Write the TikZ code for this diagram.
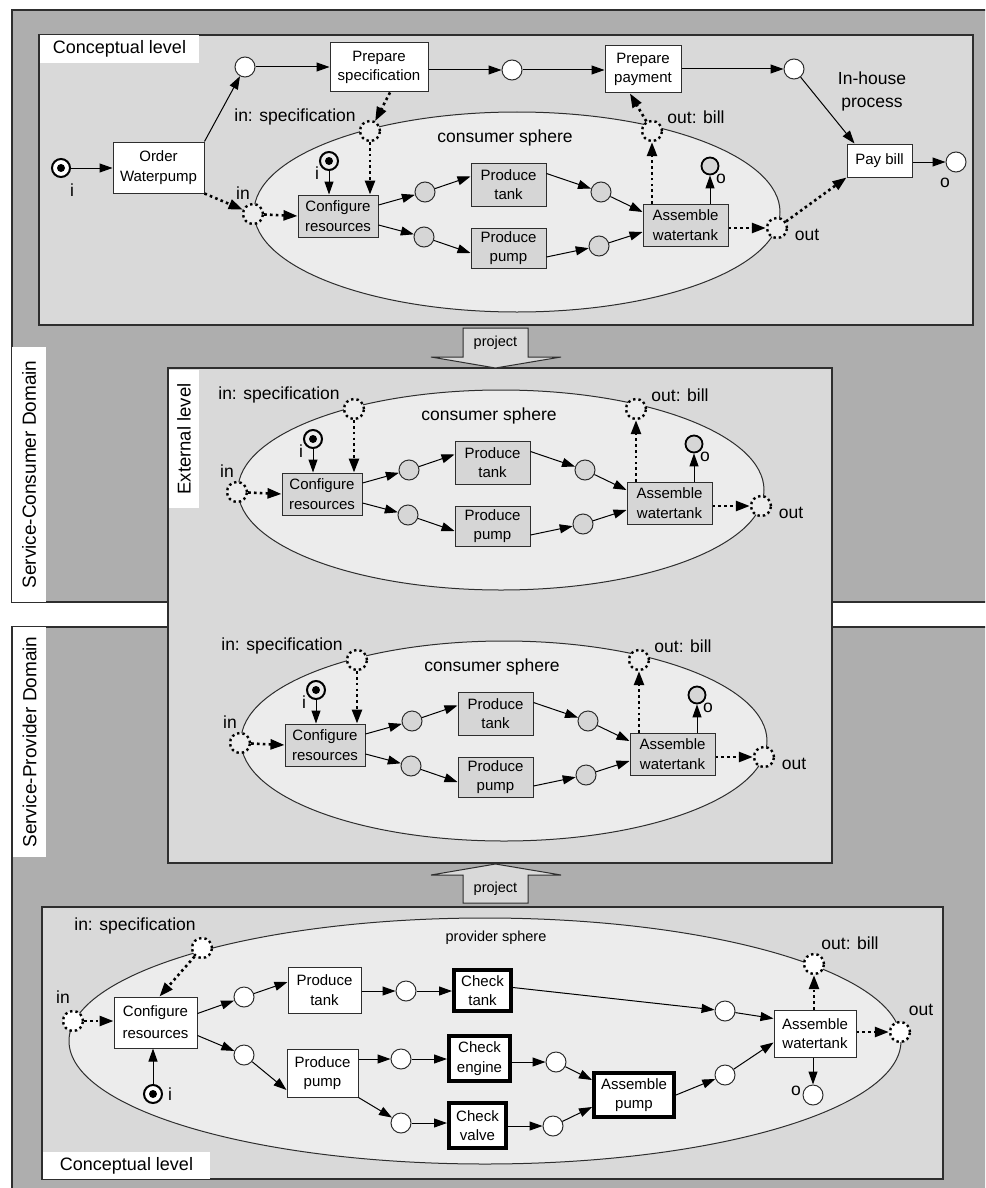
\documentclass[tikz,border=0pt]{standalone}
\usepackage{fontspec}
\setmainfont{Liberation Sans}
\usetikzlibrary{arrows.meta}

\definecolor{domaingray}{HTML}{AEAEAE}
\definecolor{levelgray}{HTML}{D9D9D9}
\definecolor{spheregray}{HTML}{ECECEC}
\definecolor{boxgray}{HTML}{D6D6D6}
\definecolor{edgegray}{HTML}{2E2E2E}

\tikzset{
  boxfont/.style={font=\fontsize{15}{19.5}\selectfont},
  lbl/.style={font=\fontsize{17.5}{23}\selectfont, inner sep=0pt, align=center},
  trans/.style={draw=edgegray, line width=1pt, fill=white, align=center, inner sep=0pt, boxfont},
  gtrans/.style={trans, fill=boxgray},
  ttrans/.style={trans, draw=black, line width=4pt},
  place/.style={circle, draw=edgegray, line width=1pt, fill=white, minimum size=20pt, inner sep=0pt},
  gplace/.style={place, fill=boxgray},
  oplace/.style={place, fill=boxgray, line width=1.8pt, draw=black, minimum size=17pt},
  iface/.style={circle, draw=black, line width=2.4pt, dash pattern=on 2.4pt off 3pt, fill=#1, minimum size=20pt, inner sep=0pt},
  iface/.default=spheregray,
  marked/.style={circle, draw=black, line width=2pt, fill=#1, minimum size=18pt, inner sep=0pt,
    path picture={\fill[black] (path picture bounding box.center) circle[radius=4pt];}},
  marked/.default=white,
  arc/.style={draw=black, line width=1pt, -{Triangle[length=13pt,width=9pt]}},
  darc/.style={draw=black, line width=2.6pt, dash pattern=on 2.6pt off 3.2pt, -{Triangle[length=14pt,width=10pt]}},
  levelbox/.style={draw=edgegray, line width=1.5pt, fill=levelgray},
  domainbox/.style={draw=edgegray, line width=1.5pt, fill=domaingray},
  tag/.style={fill=white, inner sep=0pt},
  projectarrow/.style={draw=edgegray, line width=1pt, fill=levelgray},
}

% One consumer sphere; #1 = prefix for node names, #2 = shift of the whole net
\newcommand{\consumersphere}[2]{%
\begin{scope}[shift={#2}]
  \draw[draw=edgegray, line width=1pt, fill=spheregray] (517,212) ellipse [x radius=263, y radius=100];
  \node[lbl] (#1lab) at (505,138) {consumer sphere};
  \node[iface] (#1ds) at (370,131) {};
  \node[iface] (#1db) at (652,131) {};
  \node[iface] (#1di) at (253,214) {};
  \node[iface] (#1do) at (777,228) {};
  \node[lbl] (#1lds) at (295,117) {in: specification};
  \node[lbl] (#1ldb) at (696,117) {out: bill};
  \node[lbl] (#1ldi) at (243,193) {in};
  \node[lbl] (#1ldo) at (807,235) {out};
  \node[marked=spheregray] (#1ti) at (329,161) {};
  \node[lbl] (#1lti) at (317,173) {i};
  \node[gtrans, minimum width=80pt, minimum height=42pt] (#1cfg) at (338,216) {Configure\\resources};
  \node[gplace] (#1p1) at (425,192) {};
  \node[gplace] (#1p2) at (424,237) {};
  \node[gtrans, minimum width=75pt, minimum height=43pt] (#1tank) at (508.5,184.5) {Produce\\tank};
  \node[gtrans, minimum width=75pt, minimum height=40pt] (#1pump) at (508.5,248) {Produce\\pump};
  \node[gplace] (#1p3) at (601,192) {};
  \node[gplace] (#1p4) at (599,246) {};
  \node[gtrans, minimum width=85pt, minimum height=42pt] (#1asm) at (685.5,225) {Assemble\\watertank};
  \node[oplace] (#1to) at (710,166) {};
  \node[lbl] (#1lto) at (721,179) {o};
  % flow inside the sphere
  \draw[arc] (#1ti) -- (#1ti |- #1cfg.north);
  \draw[darc] (#1ds) -- (#1ds |- #1cfg.north);
  \draw[darc] (#1di) -- (#1cfg.west);
  \draw[arc] ([yshift=11pt]#1cfg.east) -- (#1p1);
  \draw[arc] ([yshift=-9pt]#1cfg.east) -- (#1p2);
  \draw[arc] (#1p1) -- ([yshift=8pt]#1tank.west);
  \draw[arc] (#1p2) -- ([yshift=-5pt]#1pump.west);
  \draw[arc] ([yshift=11pt]#1tank.east) -- (#1p3);
  \draw[arc] ([yshift=-9pt]#1pump.east) -- (#1p4);
  \draw[arc] (#1p3) -- ([yshift=13pt]#1asm.west);
  \draw[arc] (#1p4) -- ([yshift=-7pt]#1asm.west);
  \draw[arc] (#1asm.north -| #1to) -- (#1to);
  \draw[darc] (#1asm.north -| #1db) -- (#1db);
  \draw[darc] (#1asm.east |- #1do) -- (#1do);
\end{scope}}

\begin{document}
\begin{tikzpicture}[x=1pt, y=-1pt]
\clip (0,0) rectangle (985,1188);
\fill[white] (0,0) rectangle (985,1188);

% ---------- domains ----------
\draw[domainbox] (12,10) rectangle (1000,602);
\draw[domainbox] (12,627) rectangle (1000,1200);
\node[tag, rotate=90, minimum width=255pt, minimum height=34pt, font=\fontsize{19}{21}\selectfont] (consdom) at (29,474.5) {Service-Consumer Domain};
\node[tag, rotate=90, minimum width=230pt, minimum height=33pt, font=\fontsize{19}{21}\selectfont] (provdom) at (29.5,742) {Service-Provider Domain};

% ---------- conceptual level of the consumer ----------
\draw[levelbox] (39,35) rectangle (973,325);
\node[tag, minimum width=159pt, minimum height=28pt, font=\fontsize{18}{20}\selectfont] (conctop) at (119.5,49) {Conceptual level};

\consumersphere{c}{(0,0)}

\node[marked] (i0) at (61,168) {};
\node[lbl] (li0) at (72,190) {i};
\node[trans, minimum width=91pt, minimum height=51pt] (order) at (158.5,167.5) {Order\\Waterpump};
\node[place] (pA) at (245,67) {};
\node[trans, minimum width=98pt, minimum height=49pt] (spec) at (379,67.5) {Prepare\\specification};
\node[place] (pB) at (512,70) {};
\node[trans, minimum width=76pt, minimum height=47pt] (pay) at (643,69.5) {Prepare\\payment};
\node[place] (pC) at (794,69) {};
\node[lbl] (inhouse) at (872,91) {In-house\\process};
\node[trans, minimum width=65pt, minimum height=33pt] (bill) at (879.5,160.5) {Pay bill};
\node[place] (pO) at (956,162) {};
\node[lbl] (lpO) at (945,183) {o};

\draw[arc] (i0) -- (i0 -| order.west);
\draw[arc] (order.north east) -- (pA);
\draw[arc] (pA) -- (pA -| spec.west);
\draw[arc] (spec.east |- pB) -- (pB);
\draw[arc] (pB) -- (pB -| pay.west);
\draw[arc] (pay.east |- pC) -- (pC);
\draw[arc] (pC) -- ([xshift=8pt]bill.north west);
\draw[arc] (bill.east |- pO) -- (pO);
\draw[darc] (order.south east) -- (cdi);
\draw[darc] ([xshift=11pt]spec.south) -- (cds);
\draw[darc] (cdb) -- ([xshift=-13pt]pay.south);
\draw[darc] (cdo) -- (bill.south west);

% ---------- external level ----------
\draw[levelbox] (168,368) rectangle (832,863);
\node[tag, rotate=90, minimum width=138pt, minimum height=30pt, font=\fontsize{18.5}{20}\selectfont] (extlev) at (184,439) {External level};

\consumersphere{e}{(-16,278)}
\consumersphere{f}{(-13,529)}

% ---------- projections ----------
\draw[projectarrow] (463,328) -- (528,328) -- (528,357) -- (561,357) -- (495.5,368) -- (431,357) -- (463,357) -- cycle;
\node[font=\fontsize{14.5}{16}\selectfont, inner sep=0pt] (projdown) at (495.5,343) {project};
\draw[projectarrow] (495.5,864) -- (561,875) -- (528,875) -- (528,903) -- (463,903) -- (463,875) -- (431,875) -- cycle;
\node[font=\fontsize{14.5}{16}\selectfont, inner sep=0pt] (projup) at (495.5,889) {project};

% ---------- conceptual level of the provider ----------
\draw[levelbox] (42,907) rectangle (943,1179);
\node[tag, minimum width=167pt, minimum height=27pt, font=\fontsize{18}{20}\selectfont] (concbot) at (126.5,1165.5) {Conceptual level};

\draw[draw=edgegray, line width=1pt, fill=spheregray] (485,1041) ellipse [x radius=416, y radius=123];
\node[font=\fontsize{14.5}{17}\selectfont, inner sep=0pt] (provlab) at (496,938) {provider sphere};

\node[iface=white] (pin) at (73,1021) {};
\node[lbl] (lpin) at (63,997) {in};
\node[iface=white] (pspec) at (202,948) {};
\node[lbl] (lpspec) at (135,926) {in: specification};
\node[iface=white] (pbill) at (814,964) {};
\node[lbl] (lpbill) at (850,943) {out: bill};
\node[iface=white] (pout) at (900,1032) {};
\node[lbl] (lpout) at (921,1010) {out};

\node[trans, minimum width=83pt, minimum height=51pt, font=\fontsize{15}{22}\selectfont] (pcfg) at (155.5,1022.5) {Configure\\resources};
\node[marked] (pi) at (153,1094) {};
\node[lbl] (lpi) at (170,1094) {i};
\node[place] (q1) at (244,997) {};
\node[place] (q2) at (244,1055) {};
\node[trans, minimum width=73pt, minimum height=46pt] (ptank) at (324.5,990) {Produce\\tank};
\node[trans, minimum width=71pt, minimum height=48pt] (ppump) at (322.5,1073) {Produce\\pump};
\node[place] (q3) at (406,991) {};
\node[place] (q4) at (401,1059) {};
\node[place] (q5) at (401,1123) {};
\node[ttrans, minimum width=57pt, minimum height=41pt] (ctank) at (482.5,990.5) {Check\\tank};
\node[ttrans, minimum width=61pt, minimum height=45pt] (ceng) at (479.5,1058.5) {Check\\engine};
\node[ttrans, minimum width=57pt, minimum height=45pt] (cval) at (477.5,1125.5) {Check\\valve};
\node[place] (q6) at (556,1062) {};
\node[place] (q7) at (553,1126) {};
\node[ttrans, minimum width=80pt, minimum height=44pt] (apump) at (634,1095) {Assemble\\pump};
\node[place] (q8) at (725,1011) {};
\node[place] (q9) at (725,1075) {};
\node[trans, minimum width=82pt, minimum height=47pt] (awt) at (815,1033.5) {Assemble\\watertank};
\node[place] (po) at (813,1095) {};
\node[lbl] (lpo) at (796,1091) {o};

\draw[darc] (pin) -- (pin -| pcfg.west);
\draw[darc] (pspec) -- ([xshift=4pt]pcfg.north);
\draw[arc] (pi) -- (pi |- pcfg.south);
\draw[arc] ([yshift=9pt]pcfg.east) -- (q1);
\draw[arc] ([yshift=-13pt]pcfg.east) -- (q2);
\draw[arc] (q1) -- ([yshift=8pt]ptank.west);
\draw[arc] (q2) -- ([yshift=-17pt]ppump.west);
\draw[arc] (ptank.east |- q3) -- (q3);
\draw[arc] (q3) -- (q3 -| ctank.west);
\draw[arc] (ppump.east |- q4) -- (q4);
\draw[arc] (q4) -- (q4 -| ceng.west);
\draw[arc] (ppump.south east) -- (q5);
\draw[arc] (q5) -- (q5 -| cval.west);
\draw[arc] ([yshift=3pt]ctank.east) -- (q8);
\draw[arc] (q8) -- ([yshift=15pt]awt.west);
\draw[arc] (ceng.east |- q6) -- (q6);
\draw[arc] (q6) -- ([yshift=15pt]apump.west);
\draw[arc] (cval.east |- q7) -- (q7);
\draw[arc] (q7) -- ([yshift=-12pt]apump.west);
\draw[arc] (apump.east) -- (q9);
\draw[arc] (q9) -- ([yshift=-9pt]awt.west);
\draw[arc] (awt.south -| po) -- (po);
\draw[darc] (awt.north -| pbill) -- (pbill);
\draw[darc] (awt.east |- pout) -- (pout);
\end{tikzpicture}
\end{document}
